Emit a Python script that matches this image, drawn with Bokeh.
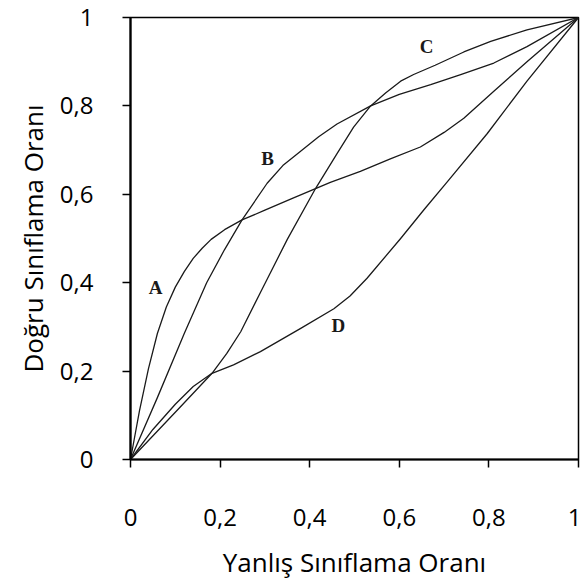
from bokeh.plotting import figure
from bokeh.models import Range1d, FixedTicker, ColumnDataSource
from bokeh.core.properties import value
from bokeh.embed import file_html
from bokeh.resources import INLINE

# ---- data ----
tick_values = [0, 0.2, 0.4, 0.6, 0.8, 1]
tick_labels = ["0", "0,2", "0,4", "0,6", "0,8", "1"]

A_x = [0, 0.02, 0.04, 0.06, 0.08, 0.10, 0.12, 0.14, 0.16, 0.18, 0.21, 0.249, 0.30, 0.36, 0.413, 0.446, 0.513, 0.58, 0.647, 0.70, 0.744, 0.811, 0.885, 1]
A_y = [0, 0.11, 0.205, 0.285, 0.345, 0.39, 0.425, 0.455, 0.478, 0.498, 0.52, 0.542, 0.564, 0.59, 0.613, 0.627, 0.652, 0.68, 0.707, 0.74, 0.772, 0.833, 0.90, 1]

B_x = [0, 0.06, 0.12, 0.17, 0.21, 0.249, 0.305, 0.34, 0.379, 0.42, 0.461, 0.536, 0.60, 0.67, 0.737, 0.811, 0.885, 1]
B_y = [0, 0.14, 0.285, 0.40, 0.475, 0.542, 0.625, 0.665, 0.697, 0.73, 0.759, 0.80, 0.826, 0.848, 0.871, 0.897, 0.934, 1]

C_x = [0, 0.10, 0.14, 0.182, 0.215, 0.246, 0.29, 0.35, 0.413, 0.461, 0.498, 0.536, 0.57, 0.603, 0.632, 0.68, 0.744, 0.804, 0.885, 1]
C_y = [0, 0.107, 0.15, 0.195, 0.24, 0.289, 0.378, 0.498, 0.613, 0.692, 0.752, 0.80, 0.83, 0.856, 0.871, 0.892, 0.922, 0.946, 0.972, 1]

D_x = [0, 0.05, 0.10, 0.14, 0.182, 0.23, 0.29, 0.379, 0.454, 0.49, 0.528, 0.603, 0.655, 0.707, 0.796, 0.885, 1]
D_y = [0, 0.068, 0.125, 0.165, 0.195, 0.214, 0.244, 0.296, 0.341, 0.37, 0.41, 0.50, 0.565, 0.628, 0.737, 0.856, 1]

label_names = ["A", "B", "C", "D"]
label_x = [0.056, 0.306, 0.661, 0.464]
label_y = [0.39, 0.68, 0.934, 0.304]

x_title = "Yanlış Sınıflama Oranı"
y_title = "Doğru Sınıflama Oranı"

# ---- figure ----
p = figure(width=581, height=583, output_backend="svg", toolbar_location=None,
           x_range=Range1d(0, 1), y_range=Range1d(0, 1),
           min_border_left=130, min_border_right=3, min_border_top=17,
           min_border_bottom=124)
p.background_fill_color = "white"
p.border_fill_color = "white"
p.outline_line_color = "black"
p.outline_line_width = 1.5
p.xgrid.visible = False
p.ygrid.visible = False

overrides = {v: l for v, l in zip(tick_values, tick_labels)}
for ax in (p.xaxis[0], p.yaxis[0]):
    ax.ticker = FixedTicker(ticks=tick_values)
    ax.major_label_overrides = overrides
    ax.minor_tick_line_color = None
    ax.major_tick_in = 0
    ax.major_tick_out = 8
    ax.major_tick_line_width = 1.5
    ax.major_tick_line_color = "black"
    ax.axis_line_width = 2.2
    ax.axis_line_color = "black"
    ax.major_label_text_font = "Open Sans"
    ax.major_label_text_font_size = "24px"
    ax.major_label_text_color = "black"
    ax.axis_label_text_font = "Open Sans"
    ax.axis_label_text_font_size = "26px"
    ax.axis_label_text_font_style = "normal"
    ax.axis_label_text_color = "black"

p.xaxis[0].axis_label = x_title
p.yaxis[0].axis_label = y_title
p.xaxis[0].major_label_standoff = 41
p.xaxis[0].axis_label_standoff = 15
p.yaxis[0].major_label_standoff = 29
p.yaxis[0].axis_label_standoff = 6

for xs, ys in ((A_x, A_y), (B_x, B_y), (C_x, C_y), (D_x, D_y)):
    p.line(xs, ys, line_color="#1a1a1a", line_width=1.3, line_join="round")

src = ColumnDataSource(dict(x=label_x, y=label_y, t=label_names))
p.text(x="x", y="y", text="t", source=src, text_font=value("Liberation Serif"),
       text_font_size="19px", text_font_style="bold", text_align="center",
       text_baseline="middle", text_color="#1a1a1a")

open("out.html", "w").write(file_html(p, INLINE))
